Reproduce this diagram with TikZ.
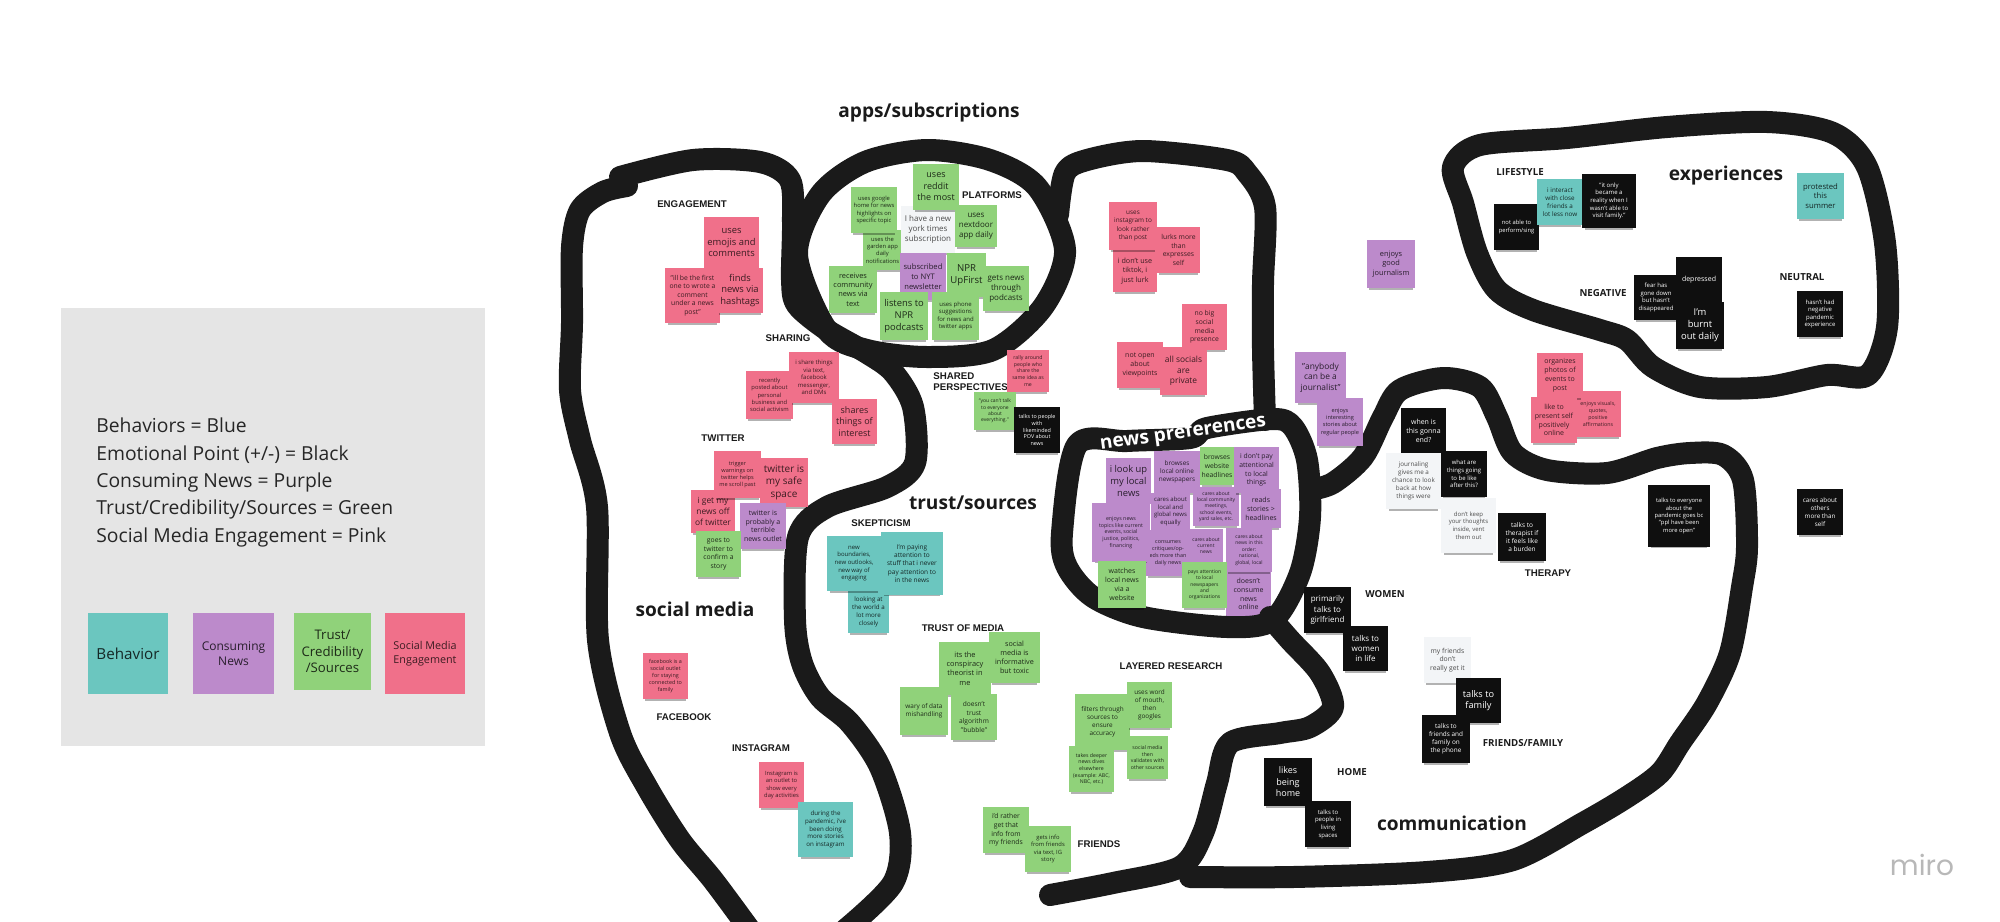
\documentclass[tikz,border=0pt]{standalone}
\usepackage{fontspec}
\setmainfont{Open Sans}
\newfontfamily\labelfont{Liberation Sans}
\newfontfamily\logofont{Poppins}
\usepackage{tikz}
\usetikzlibrary{shadows}
\definecolor{notepink}{HTML}{F0708A}
\definecolor{notegreen}{HTML}{90D27A}
\definecolor{notepurple}{HTML}{BC8ACB}
\definecolor{noteblue}{HTML}{6BC6BF}
\definecolor{notewhite}{HTML}{F3F5F7}
\definecolor{noteblack}{HTML}{0F0F0F}
\definecolor{pen}{HTML}{1A1A1A}
\newcommand{\nf}[1]{\fontsize{#1}{\fpeval{#1*1.27}}\selectfont}

\begin{document}
\begin{tikzpicture}[
    x=0.5pt,
    y=-0.5pt,
    wh/.style 2 args={
		minimum width=#1*0.5pt,
		minimum height=#2*0.5pt
	},
    note/.style={
		rectangle,
		align=center,
		inner sep=0pt,
		general shadow={shadow xshift=0pt, shadow yshift=-2.4pt, shadow scale=0.9, fill=black, opacity=0.3}
	},
	pinknote/.style={note, fill=notepink, text=black!75!notepink},
	greennote/.style={note, fill=notegreen, text=black!80!notegreen},
	purplenote/.style={note, fill=notepurple, text=black!78!notepurple},
	bluenote/.style={note, fill=noteblue, text=black!80!noteblue},
	whitenote/.style={note, fill=notewhite, text=black!70},
	blacknote/.style={note, fill=noteblack, text=white},
	stroke/.style={
		draw=pen,
		line width=11pt,
		line cap=round,
		line join=round
	},
	title/.style={font=\fontsize{9.55}{11}\selectfont\bfseries, text=pen},
	grouplabel/.style={font=\labelfont\fontsize{4.85}{5.6}\selectfont\bfseries, text=pen, align=left, inner sep=0pt},
	sublabel/.style={font=\fontsize{4.85}{5.6}\selectfont\bfseries, text=pen, inner sep=0pt}
  ]

\path [use as bounding box] (0,0) rectangle (2000,921);
\clip (0,0) rectangle (2000,921);

% // The legend
\node [rectangle, fill=black!10, wh={424}{438}] (legendbox) at (273,527) {};
\node [anchor=west, align=left, inner sep=0pt, text=black!85, font=\fontsize{9.65}{13.65}\selectfont] (legendtext) at (96,482.5)
 {Behaviors = Blue\\Emotional Point (+/-) = Black\\Consuming News = Purple\\Trust/Credibility/Sources = Green\\Social Media Engagement = Pink};
\node [bluenote, wh={80}{81}, font=\nf{7.6}] (legend1) at (128,653.5) {Behavior};
\node [purplenote, wh={81}{81}, font=\nf{6}] (legend2) at (233.5,653.5) {Consuming\\News};
\node [greennote, wh={77}{77}, font=\nf{6.6}] (legend3) at (332.5,651.5) {Trust/\\Credibility\\/Sources};
\node [pinknote, wh={80}{81}, font=\nf{5.4}] (legend4) at (425,653.5) {Social Media\\Engagement};

% this one sits below the line
\node [purplenote, wh={45}{46}, font=\nf{3.5}] (pref14) at (1248.5,594) {doesn't\\consume\\news\\online};

% // The lines
% social media
\draw [stroke] plot [smooth] coordinates {(627,186) (603,192) (580,210) (572,247) (572,323) (570,390) (580,440) (597,507) (598,640) (620,733) (647,787) (680,840) (713,880) (750,930)};
\draw [stroke] plot [smooth] coordinates {(620,177) (693,160) (760,162) (790,180) (793,223) (792,280) (797,305) (827,330) (867,353) (893,372) (913,407) (915,463) (887,487) (827,507) (798,537) (795,620) (802,663) (820,697) (850,723) (880,767) (900,833) (893,883) (845,930)};
% apps
\draw [stroke] plot [smooth cycle] coordinates {(927,150) (990,160) (1037,187) (1065,250) (1043,307) (993,350) (927,357) (867,350) (827,330) (797,255) (820,195) (865,162)};
% trust
\draw [stroke] plot [smooth] coordinates {(1058,215) (1065,173) (1087,160) (1143,151) (1227,160) (1247,173) (1265,207) (1263,283) (1263,350) (1265,420)};
% news preferences
\draw [stroke] plot [smooth cycle] coordinates {(1077,445) (1127,441) (1190,438) (1207,428) (1273,419) (1293,427) (1307,460) (1310,517) (1300,573) (1273,620) (1227,627) (1143,617) (1093,597) (1067,567) (1062,533)};
% communication
\draw [stroke] plot [smooth] coordinates {(1310,490) (1333,483) (1363,457) (1383,417) (1400,390) (1443,378) (1480,387) (1497,417) (1513,453) (1547,470) (1607,473) (1657,458) (1690,453) (1723,455) (1743,480) (1747,547) (1742,587) (1730,653) (1707,703) (1680,743) (1660,773) (1627,797) (1583,823) (1513,860) (1427,872) (1293,877) (1190,877)};
\draw [stroke] plot [smooth] coordinates {(1050,895) (1113,883) (1180,867) (1203,833) (1217,783) (1230,743) (1280,733) (1310,727) (1333,707) (1320,673) (1290,640) (1270,617)};
% experiences
\draw [stroke] plot [smooth cycle] coordinates {(1453,167) (1480,145) (1567,138) (1667,127) (1767,122) (1833,133) (1867,167) (1885,243) (1887,327) (1868,375) (1827,375) (1767,387) (1700,387) (1653,367) (1627,340) (1600,330) (1533,310) (1497,290) (1477,253) (1463,203)};

% // Titles
\node [title] (appstitle) at (929,113) {apps/subscriptions};
\node [title] (socialtitle) at (695,609) {social media};
\node [title] (trusttitle) at (973,503) {trust/sources};
\node [title] (experiencetitle) at (1726,176) {experiences};
\node [title] (communicationtitle) at (1452,823) {communication};
\node [title, text=white, rotate=8] (newstitle) at (1183,433) {news preferences};
\node [text=black!28, font=\logofont\fontsize{14}{16}\selectfont] (miro) at (1922,865) {miro};

% // Group labels
\node [grouplabel] (engagement) at (692,204) {ENGAGEMENT};
\node [grouplabel] (platforms) at (992,195) {PLATFORMS};
\node [grouplabel] (sharing) at (788,338) {SHARING};
\node [grouplabel, anchor=north west] (shared) at (933,372) {SHARED\\PERSPECTIVES};
\node [grouplabel] (twitter) at (723,438) {TWITTER};
\node [grouplabel] (skepticism) at (881,523) {SKEPTICISM};
\node [grouplabel] (trustmedia) at (963,628) {TRUST OF MEDIA};
\node [grouplabel] (layered) at (1171,666) {LAYERED RESEARCH};
\node [grouplabel] (friends) at (1099,844) {FRIENDS};
\node [grouplabel] (facebook) at (684,717) {FACEBOOK};
\node [grouplabel] (instagram) at (761,748) {INSTAGRAM};
\node [grouplabel] (therapy) at (1548,573) {THERAPY};
\node [sublabel] (lifestyle) at (1520,172) {LIFESTYLE};
\node [sublabel] (negative) at (1603,293) {NEGATIVE};
\node [sublabel] (neutral) at (1802,277) {NEUTRAL};
\node [sublabel] (women) at (1385,594) {WOMEN};
\node [sublabel] (home) at (1352,772) {HOME};
\node [sublabel] (friendsfamily) at (1523,743) {FRIENDS/FAMILY};

% // Engagement
\node [pinknote, wh={55}{51}, font=\nf{4.7}] (engage1) at (731.5,242.5) {uses\\emojis and\\comments};
\node [pinknote, wh={55}{55}, font=\nf{3.4}] (engage2) at (692.5,295.5) {"ill be the first\\one to wrote a\\comment\\under a news\\post"};
\node [pinknote, wh={46}{45}, font=\nf{4.7}] (engage3) at (740,290.5) {finds\\news via\\hashtags};

% // Platforms
\node [greennote, wh={39}{40}, font=\nf{2.9}] (app1) at (882.5,250) {uses the\\garden app\\daily\\notifications};
\node [greennote, wh={46}{46}, font=\nf{2.9}] (app2) at (874,210) {uses google\\home for news\\highlights on\\specific topic};
\node [whitenote, wh={54}{47}, font=\nf{4}] (app3) at (928,229.5) {I have a new\\york times\\subscription};
\node [greennote, wh={46}{46}, font=\nf{4.5}] (app4) at (936,187) {uses\\reddit\\the most};
\node [greennote, wh={42}{42}, font=\nf{4}] (app5) at (976,226) {uses\\nextdoor\\app daily};
\node [purplenote, wh={46}{47}, font=\nf{3.8}] (app6) at (923,276.5) {subscribed\\to NYT\\newsletter};
\node [greennote, wh={48}{47}, font=\nf{3.7}] (app7) at (853,289.5) {receives\\community\\news via\\text};
\node [greennote, wh={39}{44}, font=\nf{4.8}] (app8) at (966.5,275) {NPR\\UpFirst};
\node [greennote, wh={46}{45}, font=\nf{4}] (app9) at (1006,288.5) {gets news\\through\\podcasts};
\node [greennote, wh={48}{48}, font=\nf{4.7}] (app10) at (904,316) {listens to\\NPR\\podcasts};
\node [greennote, wh={47}{48}, font=\nf{3}] (app11) at (955.5,316) {uses phone\\suggestions\\for news and\\twitter apps};

% // Sharing
\node [pinknote, wh={47}{48}, font=\nf{2.9}] (share1) at (769.5,395) {recently\\posted about\\personal\\business and\\social activism};
\node [pinknote, wh={50}{51}, font=\nf{3}] (share2) at (814,377.5) {i share things\\via text,\\facebook\\messenger,\\and DMs};
\node [pinknote, wh={45}{45}, font=\nf{4.5}] (share3) at (854.5,421.5) {shares\\things of\\interest};

% // Twitter
\node [pinknote, wh={48}{49}, font=\nf{5}] (twit1) at (784,482.5) {twitter is\\my safe\\space};
\node [pinknote, wh={44}{43}, font=\nf{4.2}] (twit2) at (713,511.5) {i get my\\news off\\of twitter};
\node [pinknote, wh={47}{47}, font=\nf{2.8}] (twit3) at (737.5,474.5) {trigger\\warnings on\\twitter helps\\me scroll past};
\node [purplenote, wh={46}{46}, font=\nf{3.5}] (twit4) at (763,526) {twitter is\\probably a\\terrible\\news outlet};
\node [greennote, wh={45}{46}, font=\nf{3.4}] (twit5) at (718.5,554) {goes to\\twitter to\\confirm a\\story};

% // Skepticism
\node [bluenote, wh={41}{42}, font=\nf{3.1}] (skeptic1) at (868.5,612) {looking at\\the world a\\lot more\\closely};
\node [bluenote, wh={54}{55}, font=\nf{3}] (skeptic2) at (854,563.5) {new\\boundaries,\\new outlooks,\\new way of\\engaging};
\node [bluenote, wh={62}{63}, font=\nf{3.25}] (skeptic3) at (912,563.5) {I'm paying\\attention to\\stuff that i never\\pay attention to\\in the news};

% // Facebook, Instagram
\node [pinknote, wh={45}{46}, font=\nf{2.7}] (face1) at (665.5,676) {facebook is a\\social outlet\\for staying\\connected to\\family};
\node [pinknote, wh={45}{46}, font=\nf{2.9}] (insta1) at (781.5,785) {Instagram is\\an outlet to\\show every\\day activities};
\node [bluenote, wh={55}{55}, font=\nf{3.1}] (insta2) at (825.5,829.5) {during the\\pandemic, i've\\been doing\\more stories\\on instagram};

% // Trust of media
\node [greennote, wh={52}{53}, font=\nf{3.7}] (media1) at (965,668.5) {its the\\conspiracy\\theorist in\\me};
\node [greennote, wh={51}{51}, font=\nf{3.6}] (media2) at (1014.5,657.5) {social\\media is\\informative\\but toxic};
\node [greennote, wh={48}{48}, font=\nf{3.2}] (media3) at (924,711) {wary of data\\mishandling};
\node [greennote, wh={46}{46}, font=\nf{3.3}] (media4) at (974,717) {doesn't\\trust\\algorithm\\"bubble"};

% // Layered research
\node [greennote, wh={55}{56}, font=\nf{3.2}] (layer1) at (1102.5,722) {filters through\\sources to\\ensure\\accuracy};
\node [greennote, wh={45}{46}, font=\nf{3.2}] (layer2) at (1149.5,705) {uses word\\of mouth,\\then\\googles};
\node [greennote, wh={41}{43}, font=\nf{2.6}] (layer3) at (1147.5,757.5) {social media\\then\\validates with\\other sources};
\node [greennote, wh={45}{46}, font=\nf{2.6}] (layer4) at (1091.5,769) {takes deeper\\news dives\\elsewhere\\(example: ABC,\\NBC, etc.)};

% // Friends
\node [greennote, wh={46}{46}, font=\nf{3.4}] (friend1) at (1006,830) {i'd rather\\get that\\info from\\my friends};
\node [greennote, wh={46}{46}, font=\nf{2.9}] (friend2) at (1048,849) {gets info\\from friends\\via text, IG\\story};

% // Shared perspectives
\node [pinknote, wh={42}{42}, font=\nf{2.6}] (persp1) at (1028,371) {rally around\\people who\\share the\\same idea as\\me};
\node [greennote, wh={42}{38}, font=\nf{2.5}] (persp2) at (995,411) {"you can't talk\\to everyone\\about\\everything."};
\node [blacknote, wh={46}{46}, font=\nf{2.7}] (persp3) at (1037,430) {talks to people\\with\\likeminded\\POV about\\news};

% // Lurking, privacy
\node [pinknote, wh={44}{42}, font=\nf{3.6}] (lurk1) at (1135,271) {i don't use\\tiktok, i\\just lurk};
\node [pinknote, wh={48}{48}, font=\nf{3.2}] (lurk2) at (1133,226) {uses\\instagram to\\look rather\\than post};
\node [pinknote, wh={43}{46}, font=\nf{3.4}] (lurk3) at (1178.5,250) {lurks more\\than\\expresses\\self};
\node [pinknote, wh={45}{46}, font=\nf{3.4}] (lurk4) at (1204.5,327) {no big\\social\\media\\presence};
\node [pinknote, wh={46}{46}, font=\nf{3.5}] (lurk5) at (1140,365) {not open\\about\\viewpoints};
\node [pinknote, wh={47}{48}, font=\nf{4.2}] (lurk6) at (1183.5,371) {all socials\\are\\private};

% // Journalism
\node [purplenote, wh={48}{48}, font=\nf{3.7}] (journal1) at (1391,264) {enjoys\\good\\journalism};
\node [purplenote, wh={51}{51}, font=\nf{4.2}] (journal2) at (1320.5,377.5) {"anybody\\can be a\\journalist"};
\node [purplenote, wh={46}{48}, font=\nf{2.8}] (journal3) at (1340,422) {enjoys\\interesting\\stories about\\regular people};

% // News preferences
\node [purplenote, wh={45}{46}, font=\nf{4.7}] (pref1) at (1128.5,481) {i look up\\my local\\news};
\node [purplenote, wh={46}{42}, font=\nf{3.2}] (pref2) at (1177,472) {browses\\local online\\newspapers};
\node [purplenote, wh={46}{39}, font=\nf{2.5}] (pref3) at (1216,506.5) {cares about\\local community\\meetings,\\school events,\\yard sales, etc.};
\node [greennote, wh={34}{38}, font=\nf{3.4}] (pref4) at (1217,466) {browses\\website\\headlines};
\node [purplenote, wh={45}{46}, font=\nf{3.4}] (pref5) at (1256.5,470) {i don't pay\\attentional\\to local\\things};
\node [purplenote, wh={39}{37}, font=\nf{3}] (pref6) at (1170.5,511.5) {cares about\\local and\\global news\\equally};
\node [purplenote, wh={40}{39}, font=\nf{3.5}] (pref7) at (1261,508.5) {reads\\stories >\\headlines};
\node [purplenote, wh={44}{46}, font=\nf{2.7}] (pref8) at (1168,553) {consumes\\critiques/op-\\eds more than\\daily news};
\node [purplenote, wh={58}{59}, font=\nf{2.65}] (pref9) at (1121,532.5) {enjoys news\\topics like current\\events, social\\justice, politics,\\financing};
\node [purplenote, wh={34}{33}, font=\nf{2.5}] (pref10) at (1206,545.5) {cares about\\current\\news};
\node [purplenote, wh={46}{44}, font=\nf{2.5}] (pref11) at (1249,550) {cares about\\news in this\\order:\\national,\\global, local};
\node [greennote, wh={48}{47}, font=\nf{3.5}] (pref12) at (1122,584.5) {watches\\local news\\via a\\website};
\node [greennote, wh={45}{46}, font=\nf{2.5}] (pref13) at (1204.5,585) {pays attention\\to local\\newspapers\\and\\organizations};

% // Experiences
\node [blacknote, wh={45}{46}, font=\nf{2.9}] (exp1) at (1516.5,227) {not able to\\perform/sing};
\node [bluenote, wh={46}{46}, font=\nf{3.15}] (exp2) at (1560,202) {i interact\\with close\\friends a\\lot less now};
\node [blacknote, wh={54}{54}, font=\nf{3}] (exp3) at (1609,201) {"it only\\became a\\reality when I\\wasn't able to\\visit family."};
\node [bluenote, wh={47}{46}, font=\nf{3.85}] (exp4) at (1820.5,196) {protested\\this\\summer};
\node [blacknote, wh={44}{45}, font=\nf{3}] (exp5) at (1656,297.5) {fear has\\gone down\\but hasn't\\disappeared};
\node [blacknote, wh={46}{46}, font=\nf{3.5}] (exp6) at (1699,280) {depressed};
\node [blacknote, wh={48}{47}, font=\nf{4.7}] (exp7) at (1700,325.5) {I'm\\burnt\\out daily};
\node [blacknote, wh={46}{46}, font=\nf{3}] (exp8) at (1820,314) {hasn't had\\negative\\pandemic\\experience};

% // Self presentation
\node [pinknote, wh={46}{46}, font=\nf{2.65}] (self1) at (1598,414) {enjoys visuals,\\quotes,\\positive\\affirmations};
\node [pinknote, wh={46}{45}, font=\nf{3.5}] (self2) at (1560,375.5) {organizes\\photos of\\events to\\post};
\node [pinknote, wh={46}{46}, font=\nf{3.5}] (self3) at (1554,420) {like to\\present self\\positively\\online};

% // Therapy
\node [blacknote, wh={45}{46}, font=\nf{3.5}] (therapy1) at (1423.5,431) {when is\\this gonna\\end?};
\node [whitenote, wh={55}{56}, font=\nf{3.15}] (therapy2) at (1413.5,481) {journaling\\gives me a\\chance to look\\back at how\\things were};
\node [blacknote, wh={46}{46}, font=\nf{3}] (therapy3) at (1464,474) {what are\\things going\\to be like\\after this?};
\node [whitenote, wh={55}{55}, font=\nf{3}] (therapy4) at (1468.5,525.5) {don't keep\\your thoughts\\inside, vent\\them out};
\node [blacknote, wh={48}{48}, font=\nf{3.25}] (therapy5) at (1522,537) {talks to\\therapist if\\it feels like\\a burden};
\node [blacknote, wh={62}{62}, font=\nf{2.9}] (therapy6) at (1679,516) {talks to everyone\\about the\\pandemic goes bc\\"ppl have been\\more open"};
\node [blacknote, wh={46}{46}, font=\nf{3.15}] (therapy7) at (1820,512) {cares about\\others\\more than\\self};

% // Communication
\node [blacknote, wh={47}{46}, font=\nf{4}] (comm1) at (1327.5,610) {primarily\\talks to\\girlfriend};
\node [blacknote, wh={45}{45}, font=\nf{4}] (comm2) at (1365.5,648.5) {talks to\\women\\in life};
\node [whitenote, wh={47}{46}, font=\nf{3.4}] (comm3) at (1447.5,660) {my friends\\don't\\really get it};
\node [blacknote, wh={45}{45}, font=\nf{4.6}] (comm4) at (1478.5,700.5) {talks to\\family};
\node [blacknote, wh={48}{48}, font=\nf{3.2}] (comm5) at (1446,739) {talks to\\friends and\\family on\\the phone};
\node [blacknote, wh={48}{48}, font=\nf{4.5}] (comm6) at (1288,782) {likes\\being\\home};
\node [blacknote, wh={46}{46}, font=\nf{3}] (comm7) at (1328,824) {talks to\\people in\\living\\spaces};

\end{tikzpicture}
\end{document}
